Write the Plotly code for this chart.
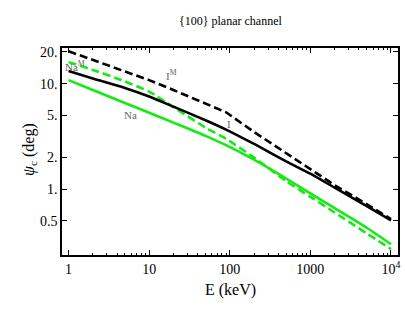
import numpy as np
import plotly.graph_objects as go

# ---- data ----
energy_keV = [1, 2, 5, 10, 20, 50, 90, 200, 500, 1000, 2000, 5000, 10000]
psi_I_M = [20.3, 16.8, 13.1, 10.8, 8.7, 6.5, 5.35, 3.48, 2.18, 1.53, 1.09, 0.72, 0.52]
psi_I = [13.2, 11.2, 9.1, 7.55, 6.05, 4.5, 3.67, 2.68, 1.83, 1.40, 1.03, 0.69, 0.505]
psi_Na_M = [16.0, 13.5, 10.5, 8.4, 6.0, 3.83, 3.0, 1.99, 1.19, 0.845, 0.60, 0.38, 0.27]
psi_Na = [10.8, 8.7, 6.56, 5.3, 4.27, 3.2, 2.61, 1.9, 1.26, 0.91, 0.66, 0.43, 0.30]

x_ticks = [1, 10, 100, 1000, 10000]
x_tick_labels = ["1", "10", "100", "1000", "10<sup>4</sup>"]
y_ticks = [0.5, 1, 2, 5, 10, 20]
y_tick_labels = ["0.5", "1.", "2.", "5.", "10.", "20."]

# curve labels: (text, E, psi)
curve_labels = [
    ("I<sup>M</sup>", 19, 12.0),
    ("I", 97, 4.12),
    ("Na", 5.9, 5.0),
    ("Na<sup>M</sup>", 1.19, 14.6),
]

GREEN = "rgb(20,235,20)"
BLACK = "black"
SERIF = "Liberation Serif, Times New Roman, DejaVu Serif, serif"

fig = go.Figure()
fig.add_trace(go.Scatter(x=energy_keV, y=psi_Na, mode="lines",
                         line=dict(color=GREEN, width=2.6, shape="spline", smoothing=0.6)))
fig.add_trace(go.Scatter(x=energy_keV, y=psi_Na_M, mode="lines",
                         line=dict(color=GREEN, width=2.6, dash="8px,4px", shape="spline", smoothing=0.6)))
fig.add_trace(go.Scatter(x=energy_keV, y=psi_I, mode="lines",
                         line=dict(color=BLACK, width=2.6, shape="spline", smoothing=0.6)))
fig.add_trace(go.Scatter(x=energy_keV, y=psi_I_M, mode="lines",
                         line=dict(color=BLACK, width=2.6, dash="8px,4px")))

minor_x = [m * 10 ** d for d in range(0, 4) for m in range(2, 10)]

ann = []
for txt, e, p in curve_labels:
    ann.append(dict(x=np.log10(e), y=np.log10(p), xref="x", yref="y", text=txt,
                    showarrow=False, font=dict(family=SERIF, size=11, color="#666666")))
ann.append(dict(x=0.5, y=1.174, xref="paper", yref="paper", text="{100} planar channel",
                showarrow=False, font=dict(family=SERIF, size=12, color="black")))
ann.append(dict(x=0.5, y=-0.222, xref="paper", yref="paper", text="E (keV)",
                showarrow=False, font=dict(family=SERIF, size=16, color="black")))
ann.append(dict(x=-0.131, y=0.51, xref="paper", yref="paper", text="<i>ψ</i><sub>c</sub> (deg)",
                textangle=-90, showarrow=False, font=dict(family=SERIF, size=16, color="black")))

fig.update_layout(
    width=405, height=316,
    margin=dict(l=62, r=7, t=48, b=61, autoexpand=False),
    paper_bgcolor="white", plot_bgcolor="white",
    showlegend=False,
    font=dict(family=SERIF),
    annotations=ann,
    xaxis=dict(type="log", range=[-0.081, 4.087], tickvals=x_ticks, ticktext=x_tick_labels,
               ticks="inside", ticklen=5, tickwidth=1, tickcolor="black",
               showline=True, linecolor="black", linewidth=1.5, mirror="allticks",
               showgrid=False, zeroline=False, automargin=False,
               tickfont=dict(family=SERIF, size=14, color="black"),
               minor=dict(tickvals=minor_x, ticks="inside", ticklen=2.5, tickcolor="black", showgrid=False)),
    yaxis=dict(type="log", range=[-0.625, 1.338], tickvals=y_ticks, ticktext=y_tick_labels,
               ticks="inside", ticklen=5, tickwidth=1, tickcolor="black",
               showline=True, linecolor="black", linewidth=1.5, mirror="allticks",
               showgrid=False, zeroline=False, automargin=False,
               tickfont=dict(family=SERIF, size=14, color="black")),
)

fig.write_html(
    "out.html",
    config={"displayModeBar": False},
    post_script="document.body.style.margin='0';document.body.style.overflow='hidden';",
)
